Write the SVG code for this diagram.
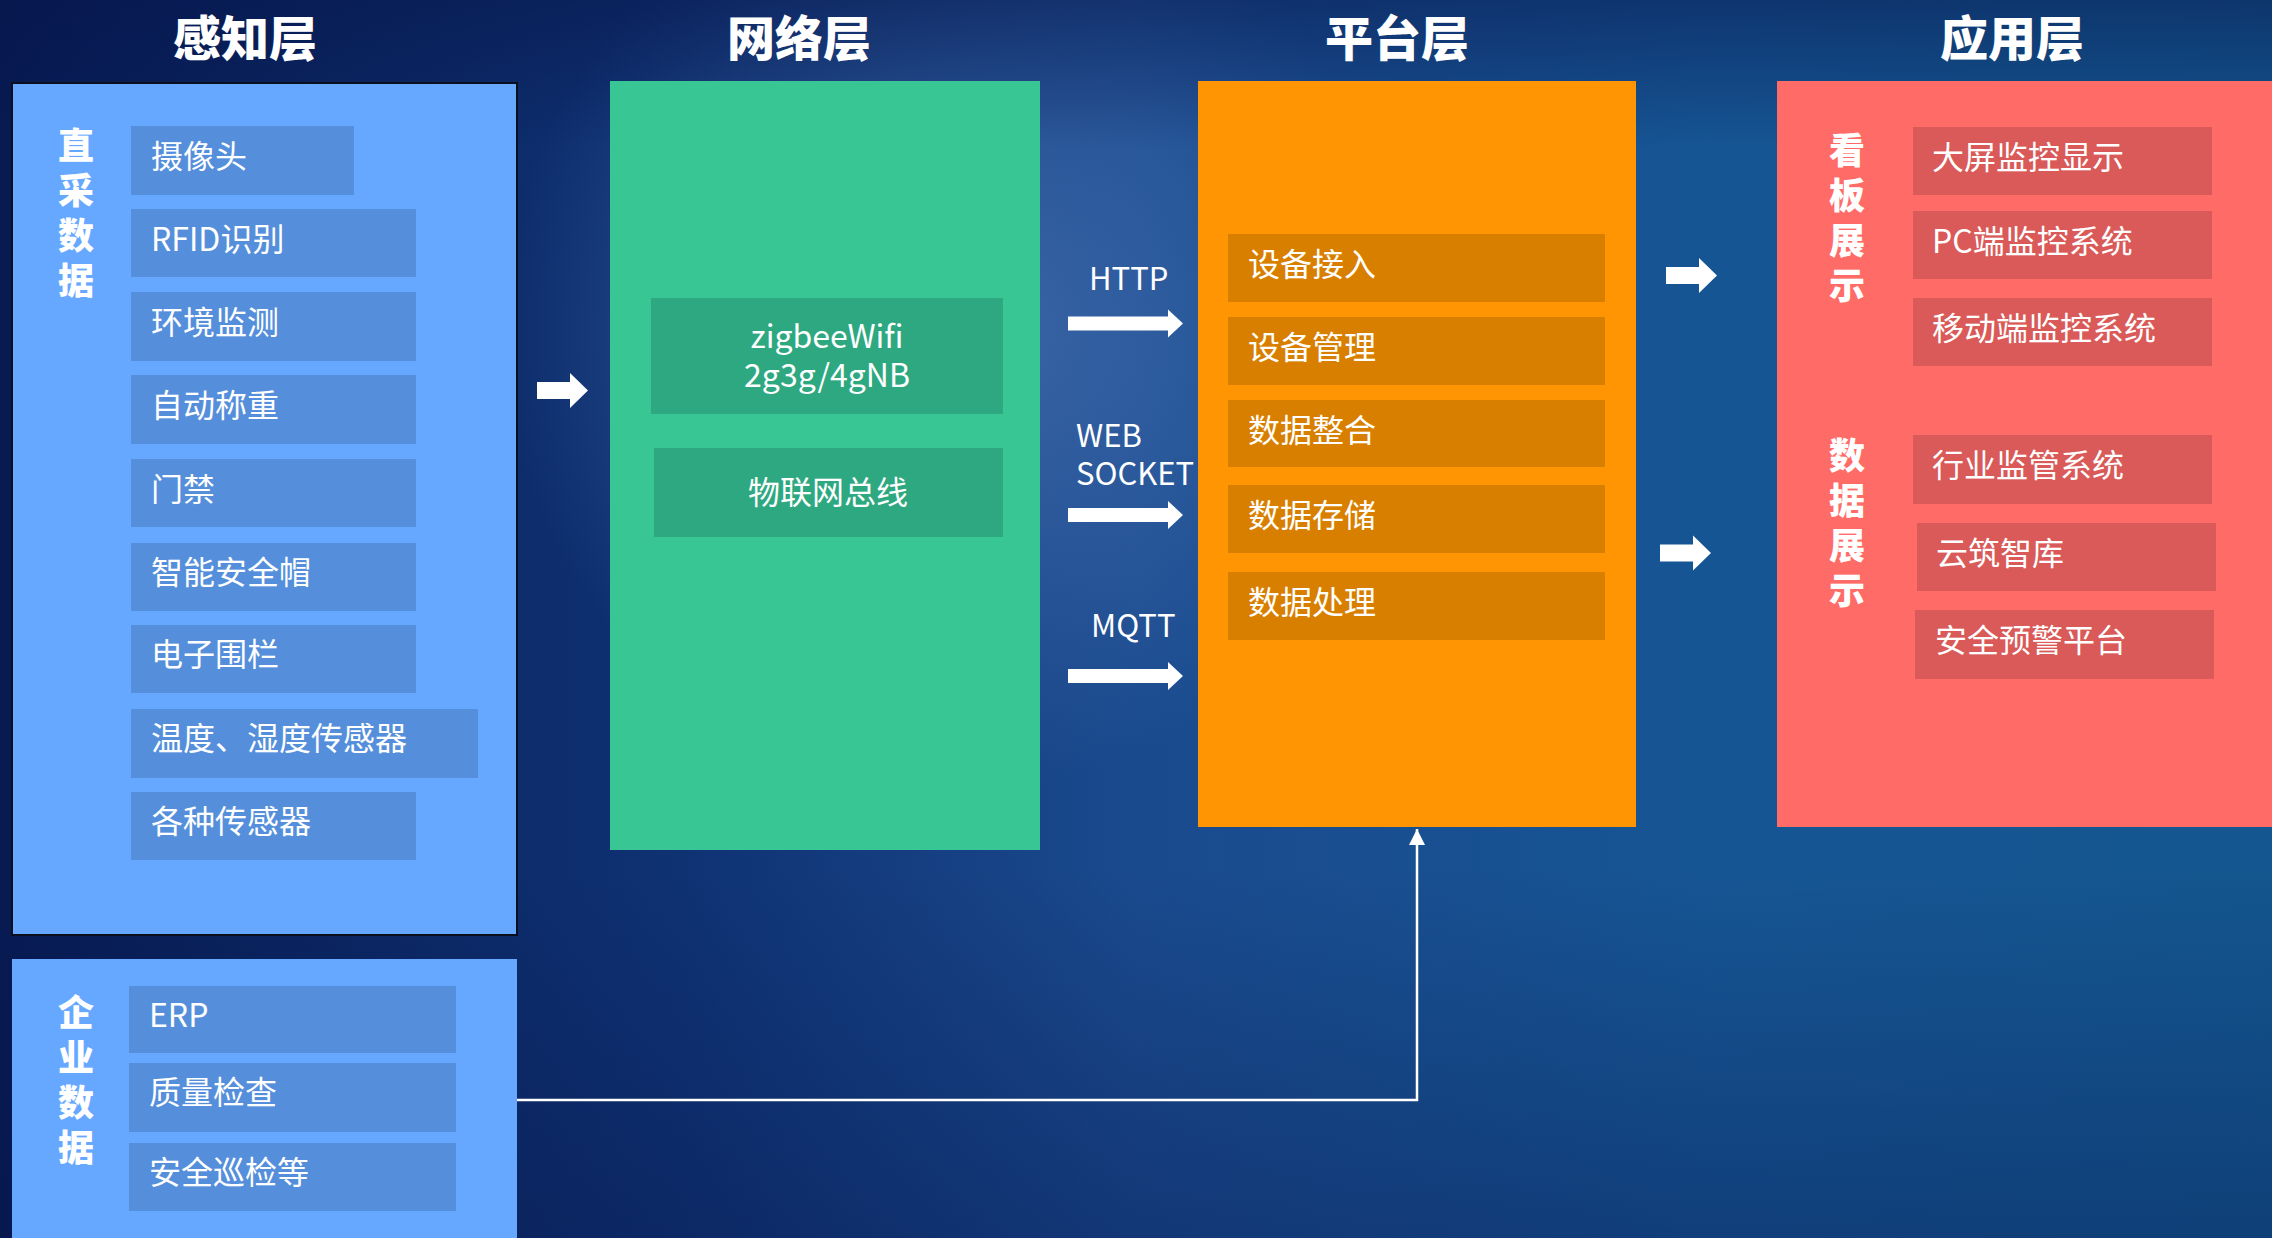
<svg xmlns="http://www.w3.org/2000/svg" width="2272" height="1238" viewBox="0 0 2272 1238">
<defs>
<linearGradient id="bg" x1="0" y1="0" x2="1" y2="0">
<stop offset="0" stop-color="#071a52"/>
<stop offset="0.3" stop-color="#0f3273"/>
<stop offset="0.5" stop-color="#1a4a8e"/>
<stop offset="0.75" stop-color="#165594"/>
<stop offset="1" stop-color="#14568f"/>
</linearGradient>
<radialGradient id="hl" cx="960" cy="330" r="460" gradientUnits="userSpaceOnUse">
<stop offset="0" stop-color="#4a75b5" stop-opacity="0.7"/>
<stop offset="1" stop-color="#4a75b5" stop-opacity="0"/>
</radialGradient>
<linearGradient id="shade" x1="0" y1="0" x2="0" y2="1">
<stop offset="0" stop-color="#06154a" stop-opacity="0.5"/>
<stop offset="0.12" stop-color="#06154a" stop-opacity="0"/>
<stop offset="0.7" stop-color="#06154a" stop-opacity="0"/>
<stop offset="1" stop-color="#06154a" stop-opacity="0.35"/>
</linearGradient>
<marker id="up" viewBox="0 0 16 16" refX="16" refY="8" markerWidth="16" markerHeight="16" markerUnits="userSpaceOnUse" orient="auto">
<path d="M0,0 L16,8 L0,16 Z" fill="#ffffff"/>
</marker>
<path id="bigArrow" d="M0,-8.5 H33 V-17.5 L51,0 L33,17.5 V8.5 H0 Z"/>
<path id="protoArrow" d="M0,-7 H100 V-14 L115,0 L100,14 V7 H0 Z"/>
</defs>
<style>
.title{font-family:"Noto Sans CJK SC","Microsoft YaHei",sans-serif;font-weight:900;font-size:48px;fill:#ffffff;text-anchor:middle}
.vlab{font-family:"Noto Sans CJK SC",sans-serif;font-weight:900;font-size:36px;fill:#ffffff;text-anchor:middle}
.t{font-family:"Noto Sans CJK SC",sans-serif;font-size:32px;fill:#ffffff}
.tc{font-family:"Noto Sans CJK SC",sans-serif;font-size:32px;fill:#ffffff;text-anchor:middle}
.proto{font-family:"Noto Sans CJK SC",sans-serif;font-size:31px;fill:#ffffff}
.blue{fill:#66a8ff}
.blueI{fill:#558fdb}
.green{fill:#38c695}
.greenI{fill:#2ea880}
.orange{fill:#ff9502}
.orangeI{fill:#d97f00}
.red{fill:#ff6b66}
.redI{fill:#d95a58}
.arrow{fill:#ffffff}
.conn{fill:none;stroke:#ffffff;stroke-width:2.5}
</style>
<rect x="0" y="0" width="2272" height="1238" fill="url(#bg)"/>
<rect x="0" y="0" width="2272" height="1238" fill="url(#hl)"/>
<rect x="0" y="0" width="2272" height="1238" fill="url(#shade)"/>

<g id="titles">
<text class="title" x="245" y="56">感知层</text>
<text class="title" x="799" y="56">网络层</text>
<text class="title" x="1397" y="56">平台层</text>
<text class="title" x="2012" y="56">应用层</text>
</g>

<g id="perception-direct">
<rect class="blue" x="12" y="83" width="505" height="852" stroke="#0a0f1e" stroke-width="2"/>
<text class="vlab" x="76" y="159">直<tspan x="76" dy="45">采</tspan><tspan x="76" dy="45">数</tspan><tspan x="76" dy="45">据</tspan></text>
<rect class="blueI" x="131" y="126" width="223" height="69"/>
<text class="t" x="151" y="168">摄像头</text>
<rect class="blueI" x="131" y="209" width="285" height="68"/>
<text class="t" x="151" y="251">RFID识别</text>
<rect class="blueI" x="131" y="292" width="285" height="69"/>
<text class="t" x="151" y="334">环境监测</text>
<rect class="blueI" x="131" y="375" width="285" height="69"/>
<text class="t" x="151" y="417">自动称重</text>
<rect class="blueI" x="131" y="459" width="285" height="68"/>
<text class="t" x="151" y="501">门禁</text>
<rect class="blueI" x="131" y="543" width="285" height="68"/>
<text class="t" x="151" y="584">智能安全帽</text>
<rect class="blueI" x="131" y="625" width="285" height="68"/>
<text class="t" x="151" y="666">电子围栏</text>
<rect class="blueI" x="131" y="709" width="347" height="69"/>
<text class="t" x="151" y="750">温度、湿度传感器</text>
<rect class="blueI" x="131" y="792" width="285" height="68"/>
<text class="t" x="151" y="833">各种传感器</text>
</g>

<g id="perception-enterprise">
<rect class="blue" x="12" y="959" width="505" height="290"/>
<text class="vlab" x="76" y="1026">企<tspan x="76" dy="45">业</tspan><tspan x="76" dy="45">数</tspan><tspan x="76" dy="45">据</tspan></text>
<rect class="blueI" x="129" y="986" width="327" height="67"/>
<text class="t" x="149" y="1027">ERP</text>
<rect class="blueI" x="129" y="1063" width="327" height="69"/>
<text class="t" x="149" y="1104">质量检查</text>
<rect class="blueI" x="129" y="1143" width="327" height="68"/>
<text class="t" x="149" y="1184">安全巡检等</text>
</g>

<g id="network">
<rect class="green" x="610" y="81" width="430" height="769"/>
<rect class="greenI" x="651" y="298" width="352" height="116"/>
<text class="tc" x="827" y="348">zigbeeWifi<tspan x="827" dy="39">2g3g/4gNB</tspan></text>
<rect class="greenI" x="654" y="448" width="349" height="89"/>
<text class="tc" x="828" y="504">物联网总线</text>
</g>

<g id="platform">
<rect class="orange" x="1198" y="81" width="438" height="746"/>
<rect class="orangeI" x="1228" y="234" width="377" height="68"/>
<text class="t" x="1248" y="276">设备接入</text>
<rect class="orangeI" x="1228" y="317" width="377" height="68"/>
<text class="t" x="1248" y="359">设备管理</text>
<rect class="orangeI" x="1228" y="400" width="377" height="67"/>
<text class="t" x="1248" y="442">数据整合</text>
<rect class="orangeI" x="1228" y="485" width="377" height="68"/>
<text class="t" x="1248" y="527">数据存储</text>
<rect class="orangeI" x="1228" y="572" width="377" height="68"/>
<text class="t" x="1248" y="614">数据处理</text>
</g>

<g id="application">
<rect class="red" x="1777" y="81" width="500" height="746"/>
<text class="vlab" x="1847" y="164">看<tspan x="1847" dy="45">板</tspan><tspan x="1847" dy="45">展</tspan><tspan x="1847" dy="45">示</tspan></text>
<text class="vlab" x="1847" y="469">数<tspan x="1847" dy="45">据</tspan><tspan x="1847" dy="45">展</tspan><tspan x="1847" dy="45">示</tspan></text>
<rect class="redI" x="1913" y="127" width="299" height="68"/>
<text class="t" x="1932" y="169">大屏监控显示</text>
<rect class="redI" x="1913" y="211" width="299" height="68"/>
<text class="t" x="1932" y="253">PC端监控系统</text>
<rect class="redI" x="1913" y="298" width="299" height="68"/>
<text class="t" x="1932" y="340">移动端监控系统</text>
<rect class="redI" x="1913" y="435" width="299" height="69"/>
<text class="t" x="1932" y="477">行业监管系统</text>
<rect class="redI" x="1917" y="523" width="299" height="68"/>
<text class="t" x="1936" y="565">云筑智库</text>
<rect class="redI" x="1915" y="610" width="299" height="69"/>
<text class="t" x="1935" y="652">安全预警平台</text>
</g>

<g id="connectors">
<use href="#bigArrow" class="arrow" x="537" y="390.5"/>
<use href="#bigArrow" class="arrow" x="1666" y="275.5"/>
<use href="#bigArrow" class="arrow" x="1660" y="553"/>
<use href="#protoArrow" class="arrow" x="1068" y="323.5"/>
<use href="#protoArrow" class="arrow" x="1068" y="515"/>
<use href="#protoArrow" class="arrow" x="1068" y="676"/>
<text class="proto" x="1089" y="290">HTTP</text>
<text class="proto" x="1076" y="447">WEB<tspan x="1076" dy="38">SOCKET</tspan></text>
<text class="proto" x="1091" y="637">MQTT</text>
<polyline class="conn" points="517,1100 1417,1100 1417,829" marker-end="url(#up)"/>
</g>
</svg>
